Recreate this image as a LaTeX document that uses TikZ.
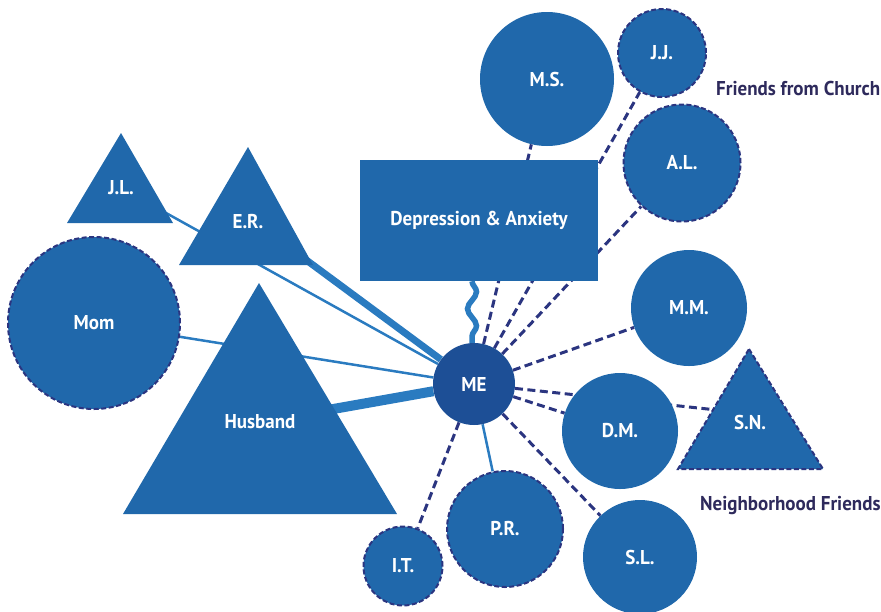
\documentclass[tikz,border=0pt]{standalone}
\usepackage{fontspec}
\setmainfont{PT Sans}[FakeStretch=0.95]
\usetikzlibrary{backgrounds,decorations.pathmorphing}

\definecolor{nodeblue}{HTML}{2068AB}
\definecolor{meblue}{HTML}{1D4F96}
\definecolor{tieblue}{HTML}{2A7BC0}
\definecolor{navy}{HTML}{2B3580}
\definecolor{captext}{HTML}{2E2A5C}

\newcommand\tagfont{\fontsize{20}{23}\selectfont\bfseries}

\tikzset{
  person/.style={circle, fill=nodeblue, text=white, font=\tagfont,
                 inner sep=0pt, minimum size=#1},
  loose/.style={draw=navy, line width=2pt, dash pattern=on 5pt off 2.5pt},
  tri/.style={fill=nodeblue},
  tag/.style={text=white, font=\tagfont, inner sep=1pt},
  grouptag/.style={text=captext, font=\tagfont, anchor=west, inner sep=0pt},
  strongtie/.style={tieblue, line width=#1},
  weaktie/.style={navy, line width=3pt, dash pattern=on 8pt off 4.5pt},
  stress/.style={tieblue, line width=5.5pt, decorate,
                 decoration={snake, amplitude=4.5pt, segment length=34pt}},
}

\begin{document}
\begin{tikzpicture}[x=1pt, y=-1pt]
\useasboundingbox (0,0) rectangle (881,611);

% triangles (family and close ties)
\fill[tri] (121,133) -- (173,223) -- (67,223) -- cycle;
\node[tag] (jl) at (121,188) {J.L.};
\fill[tri] (248,147) -- (313,265) -- (179,265) -- cycle;
\node[tag] (er) at (248,222) {E.R.};
\fill[tri] (259,283) -- (397,514) -- (123,514) -- cycle;
\node[tag] (husband) at (260,422) {Husband};
\fill[tri, loose] (749,349) -- (823,469) -- (678,469) -- cycle;
\node[tag] (sn) at (750,422) {S.N.};
\coordinate (snjoin) at (745,413);
\coordinate (erjoin) at (290,248);

% circles
\node[person=172, loose] (mom) at (94,323) {Mom};
\node[person=134] (ms) at (547,79) {M.S.};
\node[person=88, loose] (jj) at (662,53) {J.J.};
\node[person=117, loose] (al) at (682,163) {A.L.};
\node[person=116] (mm) at (689,308) {M.M.};
\node[person=116] (dm) at (620,431) {D.M.};
\node[person=114] (sl) at (640,557) {S.L.};
\node[person=116, loose] (pr) at (505,529) {P.R.};
\node[person=79, loose] (it) at (403,566) {I.T.};

% stressor box and ego
\node[fill=nodeblue, text=white, font=\tagfont, minimum width=238, minimum height=121,
      inner sep=0pt] (dep) at (479,220.5) {Depression \& Anxiety};
\node[circle, fill=meblue, text=white, font=\tagfont, minimum size=82, inner sep=0pt]
      (me) at (474,384) {ME};

% group captions
\node[grouptag] (church) at (716,88) {Friends from Church};
\node[grouptag] (hood) at (700,506) {Neighborhood Friends};

% ties
\begin{scope}[on background layer]
  \draw[strongtie=2.5pt] (me) -- (jl);
  \draw[strongtie=7pt] (me) -- (erjoin);
  \draw[strongtie=2.5pt] (me) -- (mom);
  \draw[strongtie=10pt] (me) -- (husband);
  \draw[strongtie=2.5pt] (me) -- (pr);
  \draw[weaktie] (me) -- (ms);
  \draw[weaktie] (me) -- (jj);
  \draw[weaktie] (me) -- (al);
  \draw[weaktie] (me) -- (mm);
  \draw[weaktie] (me) -- (dm);
  \draw[weaktie] (me) -- (snjoin);
  \draw[weaktie] (me) -- (sl);
  \draw[weaktie] (me) -- (it);
\end{scope}
\draw[stress] (dep.south -| 472,0) -- (me.north -| 472,0);

\end{tikzpicture}
\end{document}
